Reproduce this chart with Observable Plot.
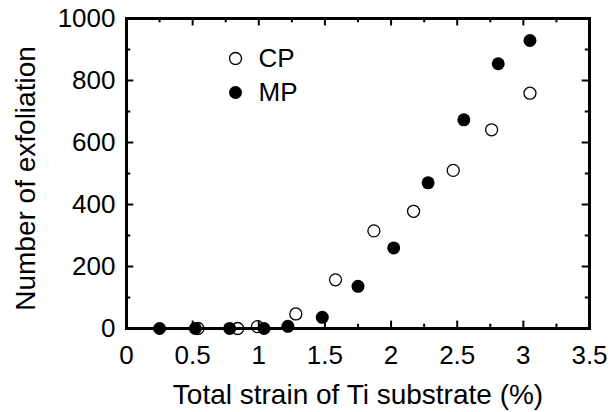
<!DOCTYPE html>
<html>
<head>
<meta charset="utf-8">
<script src="https://cdn.jsdelivr.net/npm/d3@7"></script>
<script src="https://cdn.jsdelivr.net/npm/@observablehq/plot@0.6"></script>
<style>
  html, body { margin: 0; padding: 0; background: #fff; }
</style>
</head>
<body>
<div id="chart"></div>
<script>
// Data
const cpStrain = [0.54, 0.84, 0.99, 1.28, 1.58, 1.87, 2.17, 2.47, 2.76, 3.05];
const cpCount  = [0,    0,    6,    47,   157,  315,  378,  510,  641,  759];
const mpStrain = [0.25, 0.52, 0.78, 1.04, 1.22, 1.48, 1.75, 2.02, 2.28, 2.55, 2.81, 3.05];
const mpCount  = [0,    0,    0,    0,    7,    36,   136,  260,  470,  673,  854,  929];

const xTickLabels = [0, 0.5, 1, 1.5, 2, 2.5, 3, 3.5];
const xMinorTicks = [0.25, 0.75, 1.25, 1.75, 2.25, 2.75, 3.25];
const yTickLabels = [0, 200, 400, 600, 800, 1000];
const yMinorTicks = [100, 300, 500, 700, 900];

const seriesNames = ["CP", "MP"];
const xLabel = "Total strain of Ti substrate (%)";
const yLabel = "Number of exfoliation";

const cp = cpStrain.map((x, i) => ({x, y: cpCount[i]}));
const mp = mpStrain.map((x, i) => ({x, y: mpCount[i]}));

const xDomain = [0, 3.5], yDomain = [0, 1000];
// tick lengths expressed in data units (inward ticks)
const xMajorLen = 24, xMinorLen = 14;   // in y units
const yMajorLen = 0.055, yMinorLen = 0.032; // in x units

const tickStyle = {stroke: "black", strokeWidth: 2};

const chart = Plot.plot({
  width: 613,
  height: 412,
  marginLeft: 126,
  marginRight: 24,
  marginTop: 18,
  marginBottom: 84,
  style: {fontFamily: "'Liberation Sans', Arial, Helvetica, sans-serif", fontSize: "26px", background: "white", color: "black"},
  x: {domain: xDomain},
  y: {domain: yDomain},
  marks: [
    // inward ticks: bottom & top
    Plot.ruleX(xTickLabels, {x: d => d, y1: 0, y2: xMajorLen, ...tickStyle}),
    Plot.ruleX(xMinorTicks, {x: d => d, y1: 0, y2: xMinorLen, ...tickStyle}),
    Plot.ruleX(xTickLabels, {x: d => d, y1: 1000, y2: 1000 - xMajorLen, ...tickStyle}),
    Plot.ruleX(xMinorTicks, {x: d => d, y1: 1000, y2: 1000 - xMinorLen, ...tickStyle}),
    // inward ticks: left & right
    Plot.ruleY(yTickLabels, {y: d => d, x1: 0, x2: yMajorLen, ...tickStyle}),
    Plot.ruleY(yMinorTicks, {y: d => d, x1: 0, x2: yMinorLen, ...tickStyle}),
    Plot.ruleY(yTickLabels, {y: d => d, x1: 3.5, x2: 3.5 - yMajorLen, ...tickStyle}),
    Plot.ruleY(yMinorTicks, {y: d => d, x1: 3.5, x2: 3.5 - yMinorLen, ...tickStyle}),
    Plot.frame({stroke: "black", strokeWidth: 3}),
    Plot.axisX(xTickLabels, {tickSize: 0, tickPadding: 17, fontSize: 26, tickFormat: d => String(d), label: null}),
    Plot.axisY(yTickLabels, {tickSize: 0, tickPadding: 11, fontSize: 26, tickFormat: d => String(d), label: null}),
    // axis titles
    Plot.text([xLabel], {frameAnchor: "bottom", dy: 67, fontSize: 28, textAnchor: "middle", lineAnchor: "middle"}),
    Plot.text([yLabel], {frameAnchor: "left", dx: -100, dy: 5, rotate: -90, fontSize: 28, textAnchor: "middle", lineAnchor: "middle"}),
    // data
    Plot.dot(mp, {x: "x", y: "y", r: 6.5, fill: "black", stroke: "none"}),
    Plot.dot(cp, {x: "x", y: "y", r: 6, fill: "none", stroke: "black", strokeWidth: 1.3}),
    // legend
    Plot.dot([seriesNames[0]], {frameAnchor: "top-left", dx: 109, dy: 40, r: 6, fill: "none", stroke: "black", strokeWidth: 1.3}),
    Plot.dot([seriesNames[1]], {frameAnchor: "top-left", dx: 109, dy: 74, r: 6.5, fill: "black"}),
    Plot.text([seriesNames[0]], {text: d => d, frameAnchor: "top-left", dx: 132, dy: 40, fontSize: 26, textAnchor: "start", lineAnchor: "middle"}),
    Plot.text([seriesNames[1]], {text: d => d, frameAnchor: "top-left", dx: 132, dy: 74, fontSize: 26, textAnchor: "start", lineAnchor: "middle"})
  ]
});
document.getElementById("chart").appendChild(chart);
</script>
</body>
</html>
